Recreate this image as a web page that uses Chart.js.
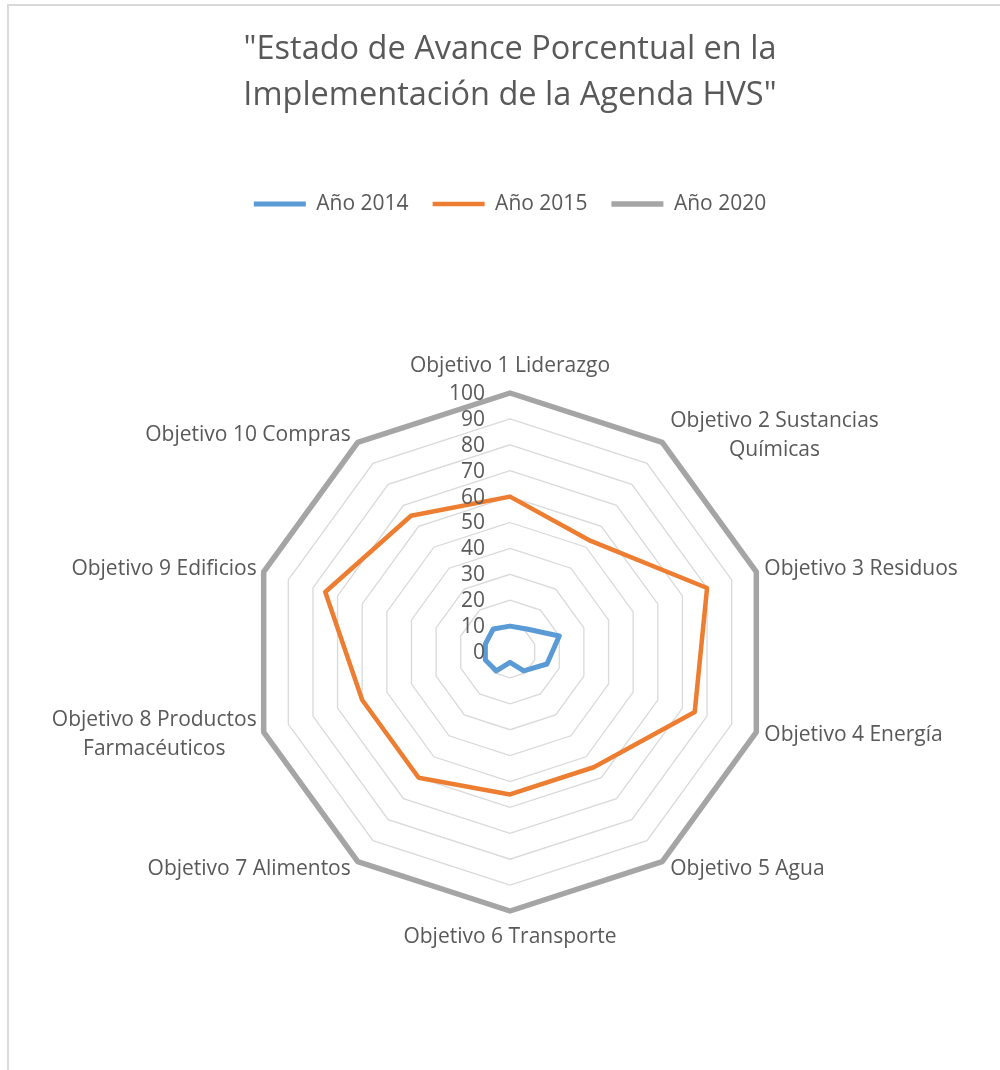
<!DOCTYPE html>
<html><head><meta charset="utf-8">
<script src="https://cdn.jsdelivr.net/npm/chart.js@4.4.1/dist/chart.umd.min.js"></script>
<style>html,body{margin:0;padding:0;background:#fff;overflow:hidden;}</style>
</head><body>
<canvas id="c" width="1000" height="1070"></canvas>
<script>
const categories = [
  ["Objetivo 1 Liderazgo"],
  ["Objetivo 2 Sustancias", "Químicas"],
  ["Objetivo 3 Residuos"],
  ["Objetivo 4 Energía"],
  ["Objetivo 5 Agua"],
  ["Objetivo 6 Transporte"],
  ["Objetivo 7 Alimentos"],
  ["Objetivo 8 Productos", "Farmacéuticos"],
  ["Objetivo 9 Edificios"],
  ["Objetivo 10 Compras"]
];
const seriesNames = ["Año 2014", "Año 2015", "Año 2020"];
const values2014 = [10, 11, 20, 15, 9, 4, 9, 10, 10, 11];
const values2015 = [60, 53, 80, 75, 55, 55, 60, 60, 75, 65];
const values2020 = [100, 100, 100, 100, 100, 100, 100, 100, 100, 100];
const tickValues = [0, 10, 20, 30, 40, 50, 60, 70, 80, 90, 100];
const titleLines = ['"Estado de Avance Porcentual en la', 'Implementación de la Agenda HVS"'];

const FONT = "'Open Sans', sans-serif";
const TEXT = '#595959';

const decor = {
  id: 'decor',
  beforeDraw(chart) {
    const ctx = chart.ctx;
    ctx.save();
    ctx.fillStyle = '#fff';
    ctx.fillRect(0, 0, chart.width, chart.height);
    ctx.strokeStyle = '#d9d9d9';
    ctx.lineWidth = 2;
    ctx.strokeRect(8, 5, 1100, 1100);
    ctx.restore();
  },
  afterDraw(chart) {
    const ctx = chart.ctx;
    const s = chart.scales.r;
    ctx.save();
    ctx.fillStyle = TEXT;
    ctx.font = "21px " + FONT;
    ctx.textAlign = 'right';
    ctx.textBaseline = 'middle';
    tickValues.forEach(v => {
      const y = s.yCenter - s.getDistanceFromCenterForValue(v);
      ctx.fillText(String(v), s.xCenter - 25, y + 1);
    });
    const lh = 29;
    categories.forEach((lines, i) => {
      const p = s.getPointPosition(i, s.drawingArea);
      const ang = p.angle + Math.PI / 2;
      const sn = Math.sin(ang), cs = Math.cos(ang);
      const widths = lines.map(t => ctx.measureText(t).width);
      const bw = Math.max(...widths);
      let cx, cy;
      if (Math.abs(sn) < 0.01) {
        cx = p.x;
        cy = p.y + (cs > 0 ? -27 : 26);
      } else if (sn > 0) {
        cx = p.x + 8 + bw / 2;
        cy = p.y - 9 * cs;
      } else {
        cx = p.x - 7 - bw / 2;
        cy = p.y - 9 * cs;
      }
      ctx.textAlign = 'center';
      const top = cy - (lines.length - 1) * lh / 2;
      lines.forEach((t, k) => ctx.fillText(t, cx, top + k * lh));
    });
    ctx.restore();
  }
};

new Chart(document.getElementById('c'), {
  type: 'radar',
  data: {
    labels: categories,
    datasets: [
      { label: seriesNames[0], data: values2014, borderColor: '#5b9bd5', backgroundColor: '#5b9bd5', borderWidth: 5, fill: false, pointRadius: 0, borderJoinStyle: 'round', borderCapStyle: 'round' },
      { label: seriesNames[1], data: values2015, borderColor: '#ed7d31', backgroundColor: '#ed7d31', borderWidth: 4.5, fill: false, pointRadius: 0, borderJoinStyle: 'round', borderCapStyle: 'round' },
      { label: seriesNames[2], data: values2020, borderColor: '#a5a5a5', backgroundColor: '#a5a5a5', borderWidth: 5.5, fill: false, pointRadius: 0, borderJoinStyle: 'round', borderCapStyle: 'round' }
    ]
  },
  options: {
    responsive: false,
    animation: false,
    devicePixelRatio: 1,
    layout: { padding: { left: 20, right: 0, top: 0, bottom: 159 } },
    plugins: {
      title: {
        display: true, text: titleLines, color: TEXT,
        font: { family: FONT, size: 32.5, weight: 'normal', lineHeight: '46.7px' },
        padding: { top: 26, bottom: 50 }
      },
      legend: {
        display: true, position: 'top',
        labels: { usePointStyle: true, pointStyle: 'line', pointStyleWidth: 52, color: TEXT, font: { family: FONT, size: 21 }, padding: 24 }
      },
      subtitle: {
        display: true, text: '', weight: 900,
        font: { size: 12, lineHeight: '12px' },
        padding: { top: 156.6, bottom: 0 }
      },
      tooltip: { enabled: false }
    },
    scales: {
      r: {
        min: 0, max: 100,
        ticks: { stepSize: 10, display: false },
        grid: { color: '#d9d9d9', lineWidth: 1.3 },
        angleLines: { display: false },
        pointLabels: { display: false }
      }
    },
    elements: { line: { tension: 0 } }
  },
  plugins: [decor]
});
</script>
</body></html>
